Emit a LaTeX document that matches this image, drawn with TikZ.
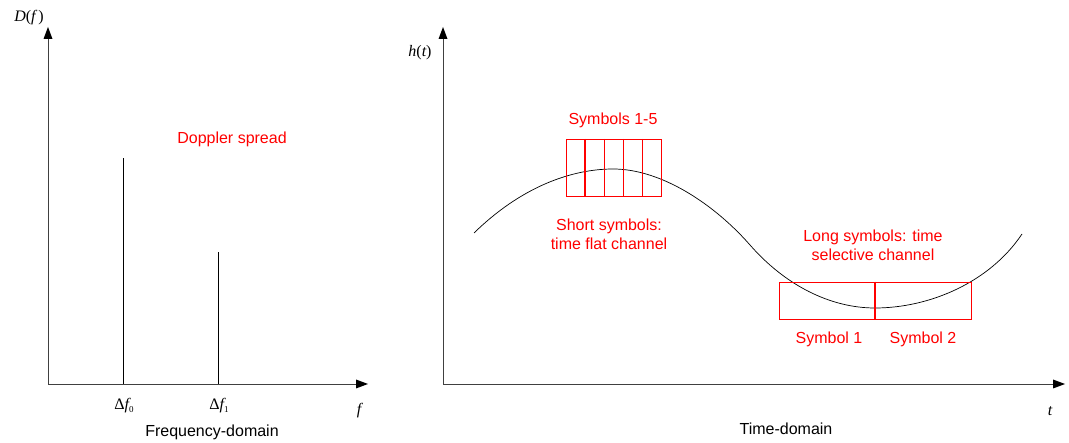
\documentclass[tikz,border=0pt]{standalone}
\usepackage{fontspec}
\setmainfont{Liberation Sans}
\newfontfamily\tms{Liberation Serif}
\definecolor{myred}{RGB}{255,0,0}
\tikzset{
  axisline/.style={draw=black!75, line width=0.9pt},
  tiphead/.style={fill=black, draw=none},
  spike/.style={draw=black, line width=0.8pt},
  redtxt/.style={text=myred, font=\fontsize{16}{19}\selectfont, align=center, inner sep=0pt},
  blktxt/.style={text=black, font=\fontsize{16}{19}\selectfont, inner sep=0pt},
  mathtxt/.style={text=black, font=\fontsize{16}{19}\selectfont\tms, inner sep=0pt},
  redbox/.style={draw=myred, line width=0.6pt},
}
\begin{document}
\begin{tikzpicture}[x=1pt, y=-1pt]
\useasboundingbox (0,0) rectangle (1069,443);
% ---- left: frequency domain
\coordinate (O1) at (48,384);
\coordinate (Y1) at (48,27);
\coordinate (X1) at (368,384);
\draw[axisline] (O1) -- ([yshift=-10pt]Y1);
\draw[axisline] (O1) -- ([xshift=-10pt]X1);
\fill[tiphead] (Y1) -- ++(-4.5,12) -- ++(9,0) -- cycle;
\fill[tiphead] (X1) -- ++(-12,-4.5) -- ++(0,9) -- cycle;
\coordinate (s0b) at (123,384);
\coordinate (s0t) at (123,158);
\coordinate (s1b) at (218,384);
\coordinate (s1t) at (218,252);
\draw[spike] (s0b) -- (s0t);
\draw[spike] (s1b) -- (s1t);
\node[mathtxt] (Dlab) at (29,18) {\itshape D\upshape(\itshape f\,\upshape)};
\node[mathtxt] (f0lab) at (124,406) {Δ\itshape f\upshape\raisebox{-3pt}{\fontsize{9}{9}\selectfont 0}};
\node[mathtxt] (f1lab) at (219,406) {Δ\itshape f\upshape\raisebox{-3pt}{\fontsize{9}{9}\selectfont 1}};
\node[mathtxt] (flab) at (359,411) {\itshape f};
\node[redtxt] (dopp) at (232,139) {Doppler spread};
\node[blktxt] (fdom) at (212,432) {Frequency-domain};
% ---- right: time domain
\coordinate (O2) at (443,384);
\coordinate (Y2) at (443,27);
\coordinate (X2) at (1065,384);
\draw[axisline] (O2) -- ([yshift=-10pt]Y2);
\draw[axisline] (O2) -- ([xshift=-10pt]X2);
\fill[tiphead] (Y2) -- ++(-4.5,12) -- ++(9,0) -- cycle;
\fill[tiphead] (X2) -- ++(-12,-4.5) -- ++(0,9) -- cycle;
\node[mathtxt] (hlab) at (420,53) {\itshape h\upshape(\itshape t\upshape)};
\node[mathtxt] (tlab) at (1050,411) {\itshape t};
\node[blktxt] (tdom) at (786,429) {Time-domain};
% channel curve
\coordinate (c0) at (474,233);
\coordinate (cpk) at (613,169);
\coordinate (cin) at (750,245);
\coordinate (cmn) at (875,308);
\coordinate (c1) at (1022,234);
\draw[black, line width=0.7pt] (c0) .. controls (520,188) and (570,169) .. (cpk)
  .. controls (662,169) and (715,205) .. (cin)
  .. controls (785,285) and (830,308) .. (cmn)
  .. controls (930,308) and (990,282) .. (c1);
% short symbols box
\node[redbox, minimum width=95pt, minimum height=57pt, inner sep=0pt] (sbox) at (613.5,167.5) {};
\foreach \xx/\lw in {585/1.3pt,604/0.7pt,623/0.7pt,642/0.7pt}{
  \draw[draw=myred, line width=\lw] (\xx,139) -- (\xx,196);
}
\node[redtxt] (s15) at (613,120) {Symbols 1-5};
\node[redtxt] (short) at (609,234) {Short symbols:\\time flat channel};
% long symbols box
\node[redbox, minimum width=192pt, minimum height=37pt, inner sep=0pt] (lbox) at (875,300.5) {};
\draw[draw=myred, line width=1.3pt] (lbox.north) -- (lbox.south);
\node[redtxt] (long) at (873,245) {Long symbols: time\\selective channel};
\node[redtxt] (sym1) at (829,339) {Symbol 1};
\node[redtxt] (sym2) at (923,339) {Symbol 2};
\end{tikzpicture}
\end{document}
